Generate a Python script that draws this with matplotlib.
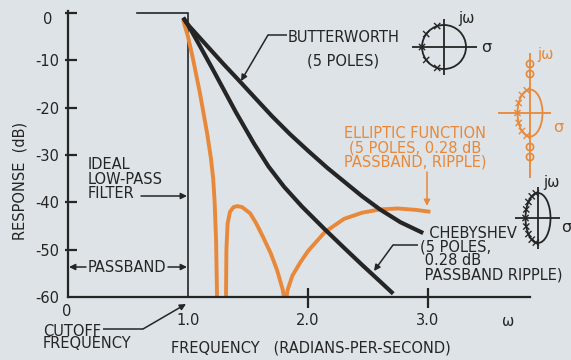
import numpy as np
import matplotlib
matplotlib.use("Agg")
import matplotlib.pyplot as plt
from matplotlib.patches import Ellipse, Circle

# ---------------- data (frequency in rad/s, response in dB) ----------------
butter_w = [0.96, 1.00, 1.10, 1.20, 1.30, 1.43, 1.55, 1.70, 1.85, 2.00, 2.16,
            2.30, 2.45, 2.60, 2.77, 2.96]
butter_db = [-1.0, -2.5, -5.3, -8.1, -10.9, -14.4, -17.7, -21.8, -25.6, -29.1,
             -32.7, -35.6, -38.7, -41.5, -44.2, -46.5]

cheby_w = [0.96, 1.00, 1.10, 1.20, 1.30, 1.40, 1.55, 1.67, 1.80, 1.95, 2.14,
           2.30, 2.45, 2.60, 2.71]
cheby_db = [-1.0, -2.5, -7.0, -11.6, -16.3, -21.0, -27.6, -32.4, -36.7, -40.9,
            -45.7, -49.6, -53.2, -56.7, -59.3]

ellip_w = [0.96, 1.00, 1.04, 1.10, 1.16, 1.19, 1.21, 1.222, 1.234, 1.242, 1.25,
           1.31, 1.317, 1.320, 1.330, 1.350, 1.380, 1.410, 1.450, 1.517, 1.570,
           1.625, 1.690, 1.742, 1.790, 1.810, 1.830, 1.870, 1.933, 2.000, 2.140,
           2.300, 2.450, 2.600, 2.750, 2.900, 3.020]
ellip_db = [-1.5, -5.0, -9.5, -17.0, -25.5, -30.5, -35.0, -40.0, -48.0, -60.0,
            -75.0, -75.0, -60.0, -50.0, -44.5, -42.0, -41.0, -40.8, -41.0, -42.3,
            -44.5, -47.3, -50.8, -54.3, -58.5, -62.0, -58.5, -55.5, -52.8, -50.3,
            -46.3, -43.5, -42.2, -41.5, -41.3, -41.6, -42.0]

# ideal low-pass filter (brick wall at the cutoff)
ideal_w = [0.575, 1.0, 1.0]
ideal_db = [0.0, 0.0, -60.0]

ytick_vals = [-10, -20, -30, -40, -50, -60]
ytick_labels = ["-10", "-20", "-30", "-40", "-50", "-60"]
xtick_vals = [1.0, 2.0, 3.0]
xtick_labels = ["1.0", "2.0", "3.0"]

# ---------------- style ----------------
INK = "#252525"
ORANGE = "#e8883a"
BG = "#dde3e6"
FS = 10.5
plt.rcParams["font.family"] = ["DejaVu Sans"]

W, H = 571, 360
fig = plt.figure(figsize=(W / 100, H / 100), dpi=100, facecolor=BG)

# main axes: x from 0 to 3.85, y from -60 to just above 0
x0, x1 = 68, 530
y_top, y_bot = 11, 297
ax = fig.add_axes([x0 / W, 1 - y_bot / H, (x1 - x0) / W, (y_bot - y_top) / H])
ax.set_facecolor("none")
ax.set_xlim(0, 3.85)
ax.set_ylim(-60, 0.42)
for s in ("top", "right"):
    ax.spines[s].set_visible(False)
for s in ("left", "bottom"):
    ax.spines[s].set_linewidth(1.6)
    ax.spines[s].set_color(INK)

px_w = 3.85 / (x1 - x0)          # omega per pixel
px_db = 60.42 / (y_bot - y_top)  # dB per pixel

ax.set_yticks(ytick_vals)
ax.set_yticklabels(ytick_labels, fontsize=FS, color=INK)
ax.set_xticks(xtick_vals)
ax.set_xticklabels(xtick_labels, fontsize=FS, color=INK)
ax.tick_params(axis="y", length=0, pad=6.5)
ax.tick_params(axis="x", length=0, pad=11.5)

# crossing tick marks
for v in [0] + ytick_vals[:-1]:
    ax.plot([-3 * px_w, 9 * px_w], [v, v], color=INK, lw=1.6,
            clip_on=False, solid_capstyle="butt")
for v in [2.0, 3.0]:
    ax.plot([v, v], [-60 - 11 * px_db, -60 + 9 * px_db], color=INK, lw=1.6,
            clip_on=False, solid_capstyle="butt")

# curves
ax.plot(ideal_w, ideal_db, color=INK, lw=1.2, solid_joinstyle="miter")
ax.plot(ellip_w, ellip_db, color=ORANGE, lw=2.8, solid_capstyle="butt")
ax.plot(butter_w, butter_db, color=INK, lw=3.0, solid_capstyle="butt")
ax.plot(cheby_w, cheby_db, color=INK, lw=3.0, solid_capstyle="butt")

# ---------------- overlay in pixel units for labels and diagrams ----------------
ov = fig.add_axes([0, 0, 1, 1], zorder=5)
ov.set_xlim(0, W)
ov.set_ylim(H, 0)
ov.axis("off")
ov.patch.set_alpha(0)


def txt(x, y, s, color=INK, ha="left", **kw):
    ov.text(x, y, s, color=color, fontsize=FS, ha=ha, va="center", **kw)


def arrow(p0, p1, color=INK):
    ov.annotate("", xy=p1, xytext=p0,
                arrowprops=dict(arrowstyle="-|>", color=color, lw=1.1,
                                mutation_scale=9, shrinkA=0, shrinkB=0))


def line(xs, ys, color=INK, lw=1.1):
    ov.plot(xs, ys, color=color, lw=lw, solid_capstyle="butt")


# axis labels
txt(52, 19, "0", ha="right")
txt(67, 311, "0", ha="center")
txt(508, 321, "ω", ha="center")
txt(311, 348, "FREQUENCY   (RADIANS-PER-SECOND)", ha="center")
ov.text(20, 181, "RESPONSE  (dB)", color=INK, fontsize=FS, rotation=90,
        ha="center", va="center")

# ideal filter note
ov.text(88, 179, "IDEAL\nLOW-PASS\nFILTER", color=INK, fontsize=FS,
        ha="left", va="center", linespacing=0.95)
arrow((141, 196), (187, 196))

# passband
txt(127, 267, "PASSBAND", ha="center")
arrow((86, 267), (69, 267))
arrow((168, 267), (187, 267))

# cutoff frequency
ov.text(43, 337.5, "CUTOFF\nFREQUENCY", color=INK, fontsize=FS,
        ha="left", va="center", linespacing=0.8)
line([103, 143], [329, 329])
arrow((143, 329), (186, 304))

# butterworth
txt(288, 37, "BUTTERWORTH")
txt(307, 61, "(5 POLES)")
line([287, 268], [35, 35])
arrow((268, 35), (241, 81))

# elliptic
ov.text(415, 148, "ELLIPTIC FUNCTION\n(5 POLES, 0.28 dB\nPASSBAND, RIPPLE)",
        color=ORANGE, fontsize=FS, ha="center", va="center",
        multialignment="center", linespacing=0.95)
arrow((427, 172), (427, 206), color=ORANGE)

# chebyshev
ov.text(420, 254, "  CHEBYSHEV\n(5 POLES,\n 0.28 dB\n PASSBAND RIPPLE)", color=INK,
        fontsize=FS, ha="left", va="center", linespacing=0.9)
line([418, 393], [245, 245])
arrow((393, 245), (374, 271))


# ---------------- s-plane sketches ----------------
def cross(x, y, color, s=2.6):
    ov.plot([x - s, x + s], [y - s, y + s], color=color, lw=1.0)
    ov.plot([x - s, x + s], [y + s, y - s], color=color, lw=1.0)


def splane(cx, cy, a, b, hx, vy, angles, color, jw_pos, sig_pos, zeros=()):
    line([hx[0], hx[1]], [cy, cy], color=color, lw=1.3)
    line([cx, cx], [vy[0], vy[1]], color=color, lw=1.3)
    ov.add_patch(Ellipse((cx, cy), 2 * a, 2 * b, fill=False, ec=color, lw=1.3))
    for ang in angles:
        t = np.deg2rad(ang)
        cross(cx + a * np.cos(t), cy - b * np.sin(t), color)
    for zy in zeros:
        ov.add_patch(Circle((cx, zy), 3.6, fill=False, ec=color, lw=1.2))
    ov.text(*jw_pos, "jω", color=color, fontsize=FS, ha="center", va="center")
    ov.text(*sig_pos, "σ", color=color, fontsize=FS + 1, ha="center", va="center")


splane(444, 47, 22, 22, (412, 477), (19, 75), [108, 144, 180, 216, 252],
       INK, (466, 19), (486, 48))
splane(530, 113, 12.5, 23.5, (498, 551), (53, 178), [105, 130, 155, 180, 205, 230, 255],
       ORANGE, (545, 55), (558, 127), zeros=(64, 74, 147, 157))
splane(538, 218, 12.5, 25, (515, 560), (187, 249), [100, 120, 140, 160, 180, 200, 220, 240, 260],
       INK, (551, 183), (566, 227))

fig.savefig("out.png", dpi=100, facecolor=BG)
